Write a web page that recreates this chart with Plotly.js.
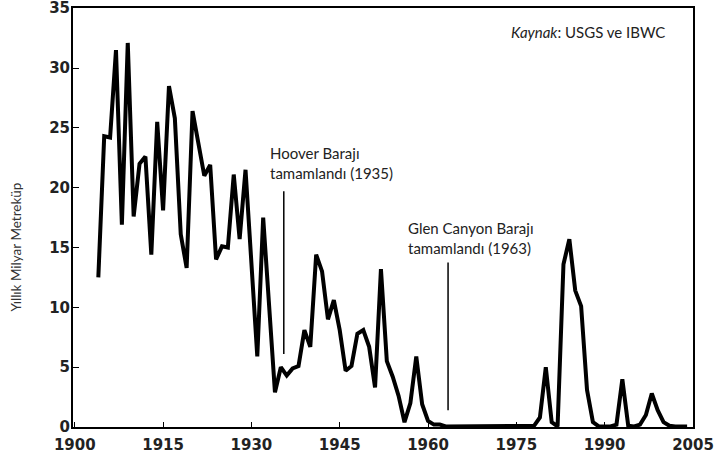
<!DOCTYPE html>
<html>
<head>
<meta charset="utf-8">
<script src="https://cdn.plot.ly/plotly-3.0.1.min.js"></script>
<style>html,body{margin:0;padding:0;background:#fff;}#chart{width:720px;height:458px;}</style>
</head>
<body>
<div id="chart"></div>
<script>
const years = [1904,1905,1906,1907,1908,1909,1910,1911,1912,1913,1914,1915,1916,1917,1918,1919,1920,1921,1922,1923,1924,1925,1926,1927,1928,1929,1931,1932,1934,1935,1936,1937,1938,1939,1940,1941,1942,1943,1944,1945,1946,1947,1948,1949,1950,1951,1952,1953,1954,1955,1956,1957,1958,1959,1960,1961,1962,1963,1964,1965,1966,1967,1968,1969,1970,1971,1972,1973,1974,1975,1976,1977,1978,1979,1980,1981,1982,1983,1984,1985,1986,1987,1988,1989,1990,1991,1992,1993,1994,1995,1996,1997,1998,1999,2000,2001,2002,2003,2004];
const flow = [12.5,24.3,24.2,31.5,16.9,32.1,17.6,22.0,22.6,14.4,25.5,18.1,28.5,25.8,16.1,13.3,26.4,23.9,21.0,21.9,14.0,15.1,15.0,21.1,15.7,21.5,5.9,17.5,2.9,5.0,4.3,4.9,5.1,8.1,6.7,14.4,13.0,9.0,10.6,8.1,4.7,5.1,7.8,8.1,6.7,3.3,13.2,5.5,4.2,2.6,0.4,2.0,5.9,1.9,0.5,0.2,0.2,0.05,0.05,0.05,0.05,0.05,0.05,0.05,0.05,0.05,0.05,0.05,0.1,0.1,0.1,0.05,0.1,0.8,5.0,0.4,0.05,13.6,15.7,11.4,10.1,3.1,0.4,0.05,0.05,0.05,0.2,4.0,0.1,0.05,0.2,1.0,2.8,1.4,0.4,0.1,0.05,0.05,0.05];
const xTicks = [1900,1915,1930,1945,1960,1975,1990,2005];
const yTicks = [0,5,10,15,20,25,30,35];
const yTitle = 'Yıllık Milyar Metreküp';
const source = '<i>Kaynak</i>: USGS ve IBWC';
const hooverText = 'Hoover Barajı<br>tamamlandı (1935)';
const glenText = 'Glen Canyon Barajı<br>tamamlandı (1963)';

const annFont = {family:'Lato, "Noto Sans", sans-serif', size:15, color:'#222'};
const tickFont = {family:'"DejaVu Sans", sans-serif', size:15, weight:'bold', color:'#222'};

const trace = {
  x: years, y: flow, type:'scatter', mode:'lines',
  line:{color:'#000', width:4}, hoverinfo:'skip'
};

const layout = {
  width:720, height:458,
  margin:{l:73, r:27, t:8, b:31},
  paper_bgcolor:'#fff', plot_bgcolor:'#fff',
  showlegend:false,
  xaxis:{range:[1899.7,2005], tickvals:xTicks, ticktext:xTicks.map(String),
    showgrid:false, zeroline:false, showline:true, mirror:true, linecolor:'#000', linewidth:2,
    ticks:'inside', ticklen:5, tickcolor:'#000', tickfont:tickFont, ticklabelstandoff:3, ticklabeloverflow:'allow'},
  yaxis:{range:[0,35.02], tickvals:yTicks, ticktext:yTicks.map(String),
    showgrid:false, zeroline:false, showline:true, mirror:true, linecolor:'#000', linewidth:2,
    ticks:'inside', ticklen:6, tickcolor:'#000', tickfont:tickFont, ticklabelstandoff:-2, ticklabeloverflow:'allow'},
  shapes:[
    {type:'line', xref:'x', yref:'y', x0:1935.5, x1:1935.5, y0:6.1, y1:19.7, line:{color:'#000', width:1.5}},
    {type:'line', xref:'x', yref:'y', x0:1963.4, x1:1963.4, y0:1.4, y1:13.75, line:{color:'#000', width:1.5}}
  ],
  annotations:[
    {xref:'paper', yref:'y', x:0, xshift:-57, y:15, text:yTitle, textangle:-90, showarrow:false,
      xanchor:'center', yanchor:'middle', font:{family:'Lato, "Noto Sans", sans-serif', size:13.5, color:'#333'}},
    {xref:'x', yref:'y', x:2000.6, y:33, text:source, showarrow:false, xanchor:'right', yanchor:'middle', font:annFont},
    {xref:'x', yref:'y', x:1932.8, y:22.06, text:hooverText, showarrow:false, xanchor:'left', yanchor:'middle', align:'left', font:annFont},
    {xref:'x', yref:'y', x:1956.3, y:15.8, text:glenText, showarrow:false, xanchor:'left', yanchor:'middle', align:'left', font:annFont}
  ]
};

Plotly.newPlot('chart', [trace], layout, {displayModeBar:false, staticPlot:true});
</script>
</body>
</html>
